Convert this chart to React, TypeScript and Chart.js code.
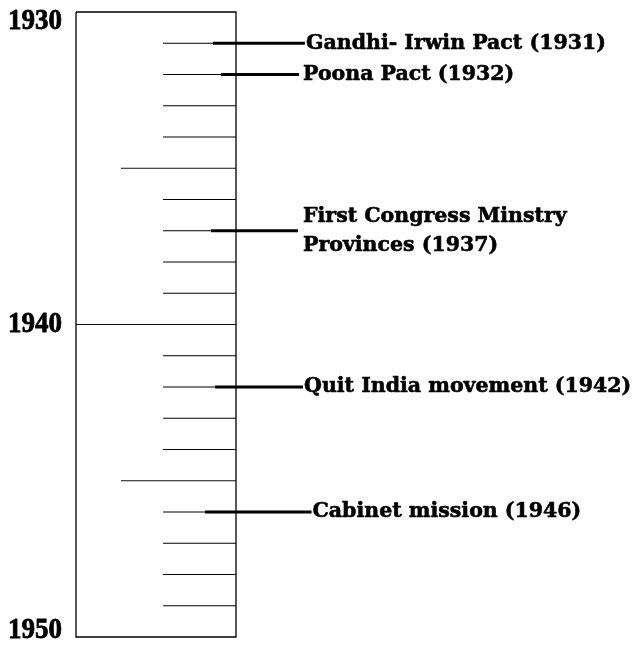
import React, { useEffect, useRef } from "react";
import { Chart, registerables } from "chart.js";

Chart.register(...registerables);

// ---- data ----
const startYear = 1930;
const endYear = 1950;
const yearLabels = [1930, 1940, 1950];
const minorTickYears = [1931, 1932, 1933, 1934, 1936, 1937, 1938, 1939, 1941, 1942, 1943, 1944, 1946, 1947, 1948, 1949];
const midTickYears = [1935, 1945];
const majorTickYears = [1940];
const eventYears = [1931, 1932, 1937, 1942, 1946];
const eventLabels: string[][] = [
  ["Gandhi- Irwin Pact (1931)"],
  ["Poona Pact (1932)"],
  ["First Congress Minstry", "Provinces (1937)"],
  ["Quit India movement (1942)"],
  ["Cabinet mission (1946)"],
];

// ---- style (x in box-width units: 0 = left edge, 1 = right edge) ----
const STYLE = {
  minorStart: 0.544,
  midStart: 0.281,
  majorStart: 0,
  eventStart: [0.856, 0.906, 0.844, 0.869, 0.806],
  eventEnd: [1.431, 1.394, 1.3875, 1.419, 1.472],
  eventGap: [1, 4, 5, 1, 1],
  labelLineHeight: 29,
  yearFontScaleX: 0.9,
};

function segments(years: number[], x0: number, x1: number) {
  const out: { x: number; y: number | null }[] = [];
  years.forEach((y) => {
    out.push({ x: x0, y });
    out.push({ x: x1, y });
    out.push({ x: x1, y: null });
  });
  return out;
}

const labelPlugin = {
  id: "timelineLabels",
  afterDatasetsDraw(chart: any) {
    const { ctx, chartArea, scales } = chart;
    const ys = scales.y;
    const xs = scales.x;
    ctx.save();
    ctx.fillStyle = "#000";
    ctx.strokeStyle = "#000";
    ctx.lineJoin = "round";
    ctx.font = "bold 30px 'Liberation Serif'";
    ctx.textAlign = "right";
    ctx.textBaseline = "middle";
    ctx.lineWidth = 0.8;
    yearLabels.forEach((yr) => {
      let py = ys.getPixelForValue(yr);
      py = Math.min(Math.max(py, chartArea.top + 9), chartArea.bottom - 7);
      const px = chartArea.left - 14;
      ctx.save();
      ctx.translate(px, py);
      ctx.scale(STYLE.yearFontScaleX, 1);
      ctx.fillText(String(yr), 0, 0);
      ctx.strokeText(String(yr), 0, 0);
      ctx.restore();
    });
    ctx.font = "bold 20.5px 'DejaVu Serif'";
    ctx.textAlign = "left";
    ctx.lineWidth = 0.6;
    eventYears.forEach((yr, i) => {
      const lines = eventLabels[i];
      const px = xs.getPixelForValue(STYLE.eventEnd[i]) + STYLE.eventGap[i];
      const py = ys.getPixelForValue(yr);
      const y0 = py - ((lines.length - 1) * STYLE.labelLineHeight) / 2;
      lines.forEach((t, j) => {
        ctx.fillText(t, px, y0 + j * STYLE.labelLineHeight);
        ctx.strokeText(t, px, y0 + j * STYLE.labelLineHeight);
      });
    });
    ctx.restore();
  },
};

export default function App() {
  const ref = useRef<HTMLCanvasElement>(null);
  useEffect(() => {
    if (!ref.current) return;
    const datasets: any[] = [
      {
        data: [
          { x: 0, y: startYear },
          { x: 1, y: startYear },
          { x: 1, y: endYear },
          { x: 0, y: endYear },
          { x: 0, y: startYear },
        ],
        borderColor: "#000",
        borderWidth: 1.3,
      },
      { data: segments(minorTickYears, STYLE.minorStart, 1), borderColor: "#000", borderWidth: 1.2 },
      { data: segments(midTickYears, STYLE.midStart, 1), borderColor: "#111", borderWidth: 1 },
      { data: segments(majorTickYears, STYLE.majorStart, 1), borderColor: "#111", borderWidth: 1.2 },
      ...eventYears.map((yr, i) => ({
        data: [
          { x: STYLE.eventStart[i], y: yr },
          { x: STYLE.eventEnd[i], y: yr },
        ],
        borderColor: "#000",
        borderWidth: 3,
      })),
    ].map((d) => ({ ...d, pointRadius: 0, fill: false, clip: false, spanGaps: false, tension: 0 }));

    const chart = new Chart(ref.current, {
      type: "line",
      data: { datasets },
      options: {
        responsive: false,
        animation: false,
        layout: { padding: { left: 76, right: 399, top: 12, bottom: 13 } },
        plugins: { legend: { display: false }, tooltip: { enabled: false } },
        scales: {
          x: { type: "linear", min: 0, max: 1, display: false },
          y: { type: "linear", min: startYear, max: endYear, reverse: true, display: false },
        },
      },
      plugins: [labelPlugin],
    });
    return () => chart.destroy();
  }, []);
  return (
    <div style={{ position: "fixed", left: 0, top: 0, width: 635, height: 650, background: "#fff" }}>
      <canvas ref={ref} width={635} height={650} />
    </div>
  );
}
